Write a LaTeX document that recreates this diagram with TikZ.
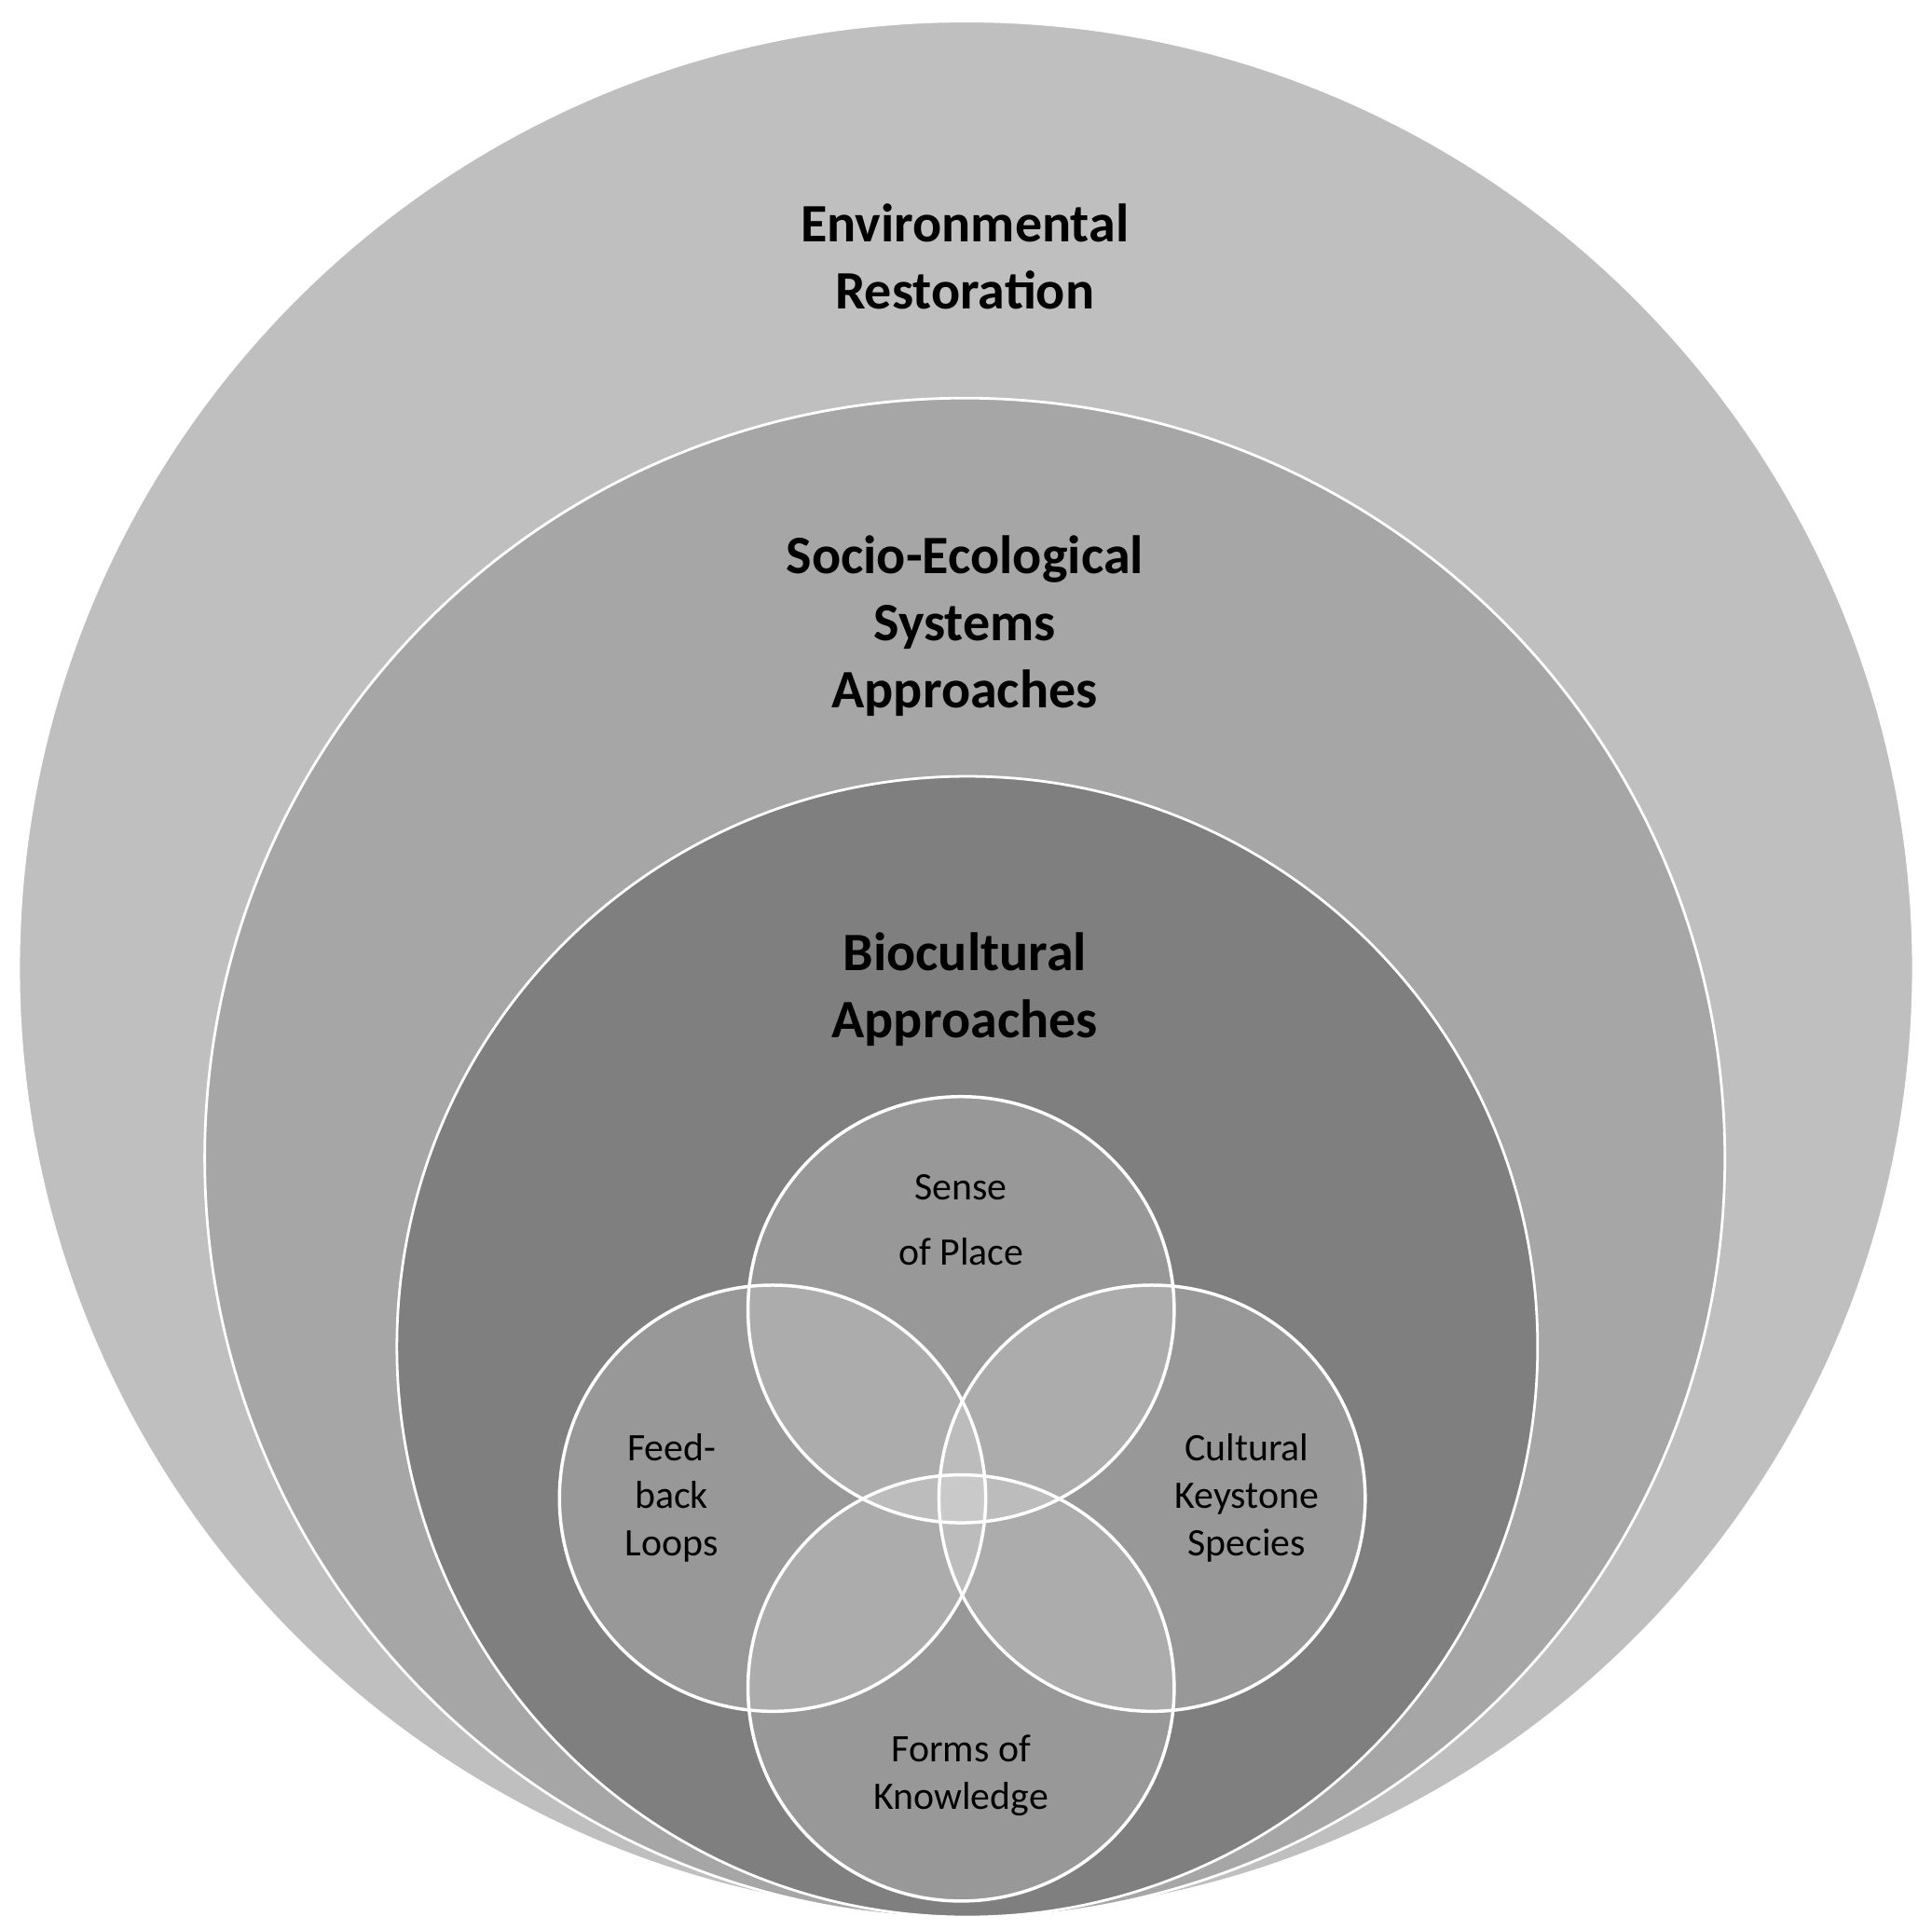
\documentclass[tikz,border=0pt]{standalone}
\usepackage{fontspec}
\setmainfont{Carlito}
\definecolor{ringout}{HTML}{BFBFBF}
\definecolor{ringmid}{HTML}{A6A6A6}
\definecolor{ringin}{HTML}{7F7F7F}
\begin{document}
\begin{tikzpicture}[x=0.02cm, y=-0.02cm,
  ring/.style = {shape=circle, draw=white, line width=1.2pt, inner sep=0pt},
  petal/.style = {shape=circle, draw=white, line width=1.5pt, fill=white,
    fill opacity=0.2, inner sep=0pt, minimum size=6.92cm},
  title/.style = {align=center, font=\bfseries\fontsize{25}{31}\selectfont},
  label/.style = {align=center, font=\fontsize{18}{22}\selectfont}
  ]
  \useasboundingbox (0,0) rectangle (1568,1566);
  \node[ring, fill=ringout, minimum size=30.76cm] (env) at (784,786) {};
  \node[ring, fill=ringmid, minimum size=24.68cm] (ses) at (783,940) {};
  \node[ring, fill=ringin, minimum size=18.52cm] (bio) at (785,1093) {};
  % four overlapping petals
  \node[petal] (place) at (780,1063) {};
  \node[petal] (loops) at (627,1216) {};
  \node[petal] (species) at (935,1216) {};
  \node[petal] (knowledge) at (780,1370) {};
  \node[title] (envtext) at (783,208) {Environmental\\Restoration};
  \node[title] (sestext) at (783,508) {Socio-Ecological\\Systems\\Approaches};
  \node[title] (biotext) at (783,803) {Biocultural\\Approaches};
  \node[label, font=\fontsize{18}{30}\selectfont] (placetext) at (780,990) {Sense\\of Place};
  \node[label] (loopstext) at (545,1216) {Feed-\\back\\Loops};
  \node[label] (speciestext) at (1012,1216) {Cultural\\Keystone\\Species};
  \node[label] (knowledgetext) at (780,1441) {Forms of\\Knowledge};
\end{tikzpicture}
\end{document}
